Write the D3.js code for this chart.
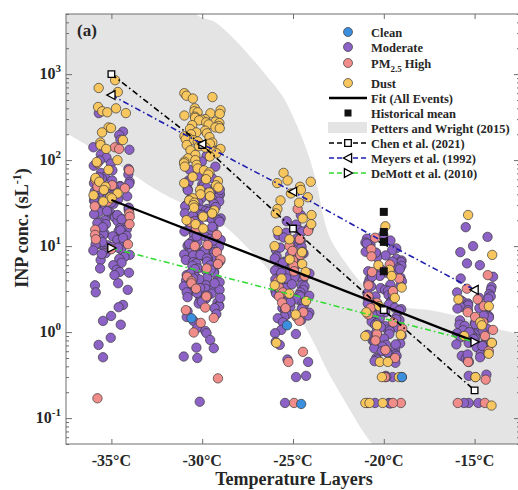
<!DOCTYPE html>
<html>
<head>
<meta charset="utf-8">
<script src="https://cdn.jsdelivr.net/npm/d3@7"></script>
<style>
  body { margin: 0; background: #fff; }
  svg { display: block; font-family: "Liberation Serif", "Times New Roman", serif; font-weight: bold; }
</style>
</head>
<body>
<svg id="chart" width="518" height="490"></svg>
<script>
// ---- data ----
const temps = [-35, -30, -25, -20, -15];
const tempLabels = ["-35°C", "-30°C", "-25°C", "-20°C", "-15°C"];
const yMajorTicks = [0.1, 1, 10, 100, 1000];
const yTickExponents = ["-1", "0", "1", "2", "3"];

// INP concentrations (sL^-1) per temperature layer, one inner list per layer
const clean = [[], [1.45], [1.2, 0.146], [0.3], []];

const moderate = [
  [352, 214, 195, 172, 141, 132, 116, 107, 99, 91, 86, 79, 76, 71, 68, 64, 61, 58, 56, 53, 50, 49, 47, 45, 43, 42, 40, 38, 37, 36, 34, 33, 31, 30, 29, 28, 27, 26, 25, 24, 23.5, 22, 21.5, 21, 20, 19.5, 19, 18, 17.5, 17, 16.2, 15.8, 15, 14.6, 14, 13.6, 13, 12.7, 12.2, 11.8, 11.4, 11, 10.6, 10.2, 9.8, 9.4, 9.1, 8.7, 8.3, 7.9, 7.5, 7.1, 6.9, 6.4, 6.0, 5.5, 5.3, 5.0, 4.9, 4.6, 3.7, 3.5, 3.1, 2.9, 2.07, 1.95, 1.54, 1.35, 1.22, 0.86, 0.71, 0.51,
   63, 54, 46, 39, 35, 32, 27.5, 25.5, 23, 20.5, 18.5, 16.6, 15.3, 13.2, 12.4, 11.2, 10.4, 9.6, 8.9, 8.1],
  [131, 112, 96, 84, 77, 71, 66, 62, 58, 55, 52, 50, 48, 46, 44.5, 43, 41, 40, 38.5, 37, 36, 34.5, 33, 32, 31, 30, 29, 28, 27, 26.5, 25.5, 25, 24, 23.5, 22.5, 22, 21, 20.5, 20, 19.2, 18.6, 18, 17.4, 17, 16.4, 16, 15.4, 15, 14.5, 14.1, 13.7, 13.3, 12.9, 12.5, 12.1, 11.8, 11.4, 11.1, 10.8, 10.4, 10.1, 9.8, 9.5, 9.3, 9, 8.7, 8.5, 8.2, 8, 7.8, 7.5, 7.3, 7.1, 6.9, 6.7, 6.5, 6.3, 6.1, 5.9, 5.7, 5.5, 5.4, 5.2, 5.0, 4.9, 4.7, 4.6, 4.4, 4.3, 4.1, 4.0, 3.9, 3.8, 3.6, 3.5, 3.4, 3.3, 3.2, 3.1, 3.0, 2.9, 2.8, 2.75, 2.65, 2.55, 2.45, 2.35, 2.3, 2.2, 2.15, 2.05, 2.0, 1.9, 1.75, 1.62, 1.5, 1.35, 1.12, 1.03, 0.97, 0.81, 0.66, 0.65, 0.52, 0.5, 0.155,
   45, 35, 28.5, 23, 19.6, 16.8, 14.8, 13, 11.6, 10.6, 9.7, 8.8, 7.9, 7.2, 6.6, 6, 5.3, 4.8, 4.2, 3.7, 3.25, 2.85, 2.5, 2.25],
  [23, 19.5, 17.8, 16.2, 15.4, 14.3, 13.4, 12.6, 12, 11.5, 10.8, 10.3, 9.8, 9.4, 9.0, 8.6, 8.2, 7.9, 7.6, 7.2, 6.9, 6.6, 6.3, 6.1, 5.8, 5.6, 5.4, 5.2, 5.0, 4.8, 4.6, 4.45, 4.3, 4.1, 3.95, 3.8, 3.65, 3.5, 3.4, 3.25, 3.1, 3.0, 2.9, 2.8, 2.7, 2.6, 2.5, 2.4, 2.3, 2.2, 2.15, 2.05, 1.98, 1.9, 1.82, 1.75, 1.68, 1.6, 1.52, 1.45, 1.38, 1.3, 1.06, 0.97, 0.95, 0.77, 0.71, 0.48, 0.45, 0.31, 0.3, 0.15,
   14.8, 11.8, 9.6, 8.4, 7.4, 6.4, 5.7, 4.9, 4.2, 3.6, 3.05, 2.65, 2.25, 1.86, 1.56],
  [13.5, 12.2, 11.6, 11, 10.4, 9.9, 9.4, 9, 8.6, 8.2, 7.8, 7.4, 7.1, 6.8, 6.5, 6.2, 5.9, 5.6, 5.3, 5.1, 4.9, 4.7, 4.5, 4.3, 4.1, 3.9, 3.7, 3.55, 3.4, 3.25, 3.1, 3.0, 2.85, 2.7, 2.6, 2.5, 2.4, 2.3, 2.2, 2.1, 2.0, 1.92, 1.85, 1.78, 1.7, 1.63, 1.56, 1.5, 1.44, 1.38, 1.32, 1.27, 1.22, 1.17, 1.12, 1.07, 1.03, 0.99, 0.95, 0.91, 0.87, 0.84, 0.8, 0.77, 0.74, 0.71, 0.68, 0.65, 0.62, 0.6, 0.57, 0.55, 0.53, 0.5, 0.48, 0.46, 0.44, 0.31, 0.3, 0.3, 0.15, 0.15, 0.148, 0.15,
   10.7, 8.4, 6.6, 5.4, 4.4, 3.45, 2.75, 2.15, 1.74, 1.41, 1.14, 0.93, 0.72, 0.58],
  [16.6, 12.8, 10, 8.5, 6.3, 6.0, 4.4, 4.2, 3.35, 3.1, 2.9, 2.75, 2.6, 2.45, 2.35, 2.25, 2.15, 2.05, 1.95, 1.88, 1.8, 1.72, 1.66, 1.6, 1.54, 1.48, 1.42, 1.37, 1.32, 1.27, 1.22, 1.18, 1.13, 1.09, 1.05, 1.01, 0.97, 0.94, 0.9, 0.87, 0.84, 0.81, 0.78, 0.75, 0.72, 0.7, 0.67, 0.65, 0.62, 0.6, 0.58, 0.56, 0.53, 0.51, 0.49, 0.47, 0.45, 0.32, 0.31, 0.3, 0.15, 0.15, 0.15,
   2.5, 1.9, 1.56, 1.24, 1.0, 0.83, 0.69, 0.55]
];

const pmHigh = [
  [141, 135, 92, 76, 59, 51, 49, 47, 35, 33, 29, 24, 22, 18, 15.5, 13.5, 12, 10.5, 9.2, 0.17],
  [24, 19, 16, 13.5, 10.3, 10, 8.5, 7, 6.2, 5.5, 4.4, 3.9, 3.7, 3.2, 2.6, 1.93, 1.8, 1.46, 1.28, 0.99, 0.29],
  [27, 15, 12, 10, 8.8, 7.9, 6.8, 5.9, 5.1, 4.5, 3.9, 3.3, 2.9, 2.6, 2.2, 1.9, 1.7, 1.5, 1.35, 0.59, 0.45, 0.15],
  [12.5, 9.2, 7.6, 6.1, 5.0, 4.2, 3.5, 3.0, 2.6, 2.2, 1.9, 1.6, 1.3, 1.1, 0.95, 0.8, 0.62, 0.5, 0.3, 0.15, 0.15],
  [4.6, 3.2, 2.4, 2.0, 1.7, 1.5, 1.3, 1.06, 0.9, 0.75, 0.6, 0.45, 0.28, 0.15, 0.15]
];

const dust = [
  [850, 690, 620, 415, 400, 370, 360, 352, 240, 236, 210, 171, 160, 150, 135, 100, 95, 77, 62, 56, 49, 45, 41, 39, 37, 36, 33],
  [600, 560, 540, 520, 400, 380, 370, 360, 350, 345, 330, 320, 310, 300, 295, 290, 280, 275, 270, 260, 255, 250, 240, 235, 230, 220, 210, 205, 200, 190, 185, 180, 175, 170, 165, 160, 155, 150, 145, 140, 135, 130, 125, 120, 115, 110, 105, 100, 96, 92, 88, 84, 80, 76, 72, 68, 64, 60, 57, 54, 51, 48, 45, 42, 40, 38, 36, 34, 32, 30, 28, 26, 24, 22, 20, 18, 16],
  [71, 58, 56, 54, 49, 45, 41, 37, 34, 32, 27, 24, 23, 21, 18, 15, 12, 10, 8.5, 7, 6.2, 5, 4.2, 3.5, 2.8, 2.3, 1.6, 0.75],
  [17, 6, 5.3, 4.5, 3.3, 2.5, 2.0, 1.7, 1.2, 0.93, 0.9, 0.45, 0.45, 0.3, 0.3, 0.3, 0.15, 0.15, 0.15],
  [23, 7.9, 2.4, 2.0, 1.3, 1.2, 0.9, 0.75, 0.56, 0.3, 0.14]
];

// exponential fit over all events
const fitTemps = [-35, -15];
const fitValues = [34.4, 0.78];

// historical means at -20 °C
const histTemps = [-20, -20, -20, -20];
const histValues = [25, 14.6, 11.2, 5.1];

// parameterisations
const chenValues = [1000, 150, 16, 1.8, 0.21];
const meyersValues = [570, 154, 43, 11.2, 3.1];
const demottTemps = [-35, -15];
const demottValues = [9.5, 0.77];

// Petters and Wright (2015) envelope
const pwUpperT = [-38, -31.5, -30.34, -29.3, -28.19, -27.09, -26.27, -25.55, -24.72, -24.06, -23.62, -23.35, -22.96, -22.3, -21.48, -20.59, -19.38, -17.46, -15.53, -13.88, -12.2];
const pwUpperN = [1e5, 2e4, 5000, 4040, 2500, 1380, 855, 542, 236, 100, 45, 23, 12.4, 7.3, 4.26, 2.7, 2.0, 1.8, 1.46, 1.12, 0.78];
const pwLowerT = [-38, -37.5, -34.53, -32.32, -30.12, -28.85, -27.37, -26.43, -25.44, -24.61, -23.79, -23.13, -22.41, -21.86, -21.2, -20.65, -20.2, -12.2];
const pwLowerN = [230, 206, 85.5, 42.6, 25, 17.6, 9.0, 5.57, 2.85, 1.46, 0.71, 0.363, 0.196, 0.124, 0.0727, 0.05, 0.035, 0.035];

// ---- layout ----
const svg = d3.select("#chart");
const box = { left: 66, right: 520, top: 14, bottom: 444 };
const x = d3.scaleLinear().domain([-37.5, -12.5]).range([box.left, box.right]);
const y = d3.scaleLog().domain([0.05, 5000]).range([box.bottom, box.top]);

const colors = {
  clean: "#3b8fde",
  moderate: "#8c62c6",
  pm: "#f08c8a",
  dust: "#f7c65f",
  band: "#e4e4e4",
  meyers: "#1c1cae",
  demott: "#2fdc2f",
  axis: "#6e6e6e",
  text: "#262626"
};
const dashDot = "6,3,1.5,3";

svg.append("defs").append("clipPath").attr("id", "plotClip")
  .append("rect")
  .attr("x", box.left).attr("y", box.top)
  .attr("width", box.right - box.left).attr("height", box.bottom - box.top);

const plot = svg.append("g").attr("clip-path", "url(#plotClip)");

// envelope band
const bandPts = pwUpperT.map((t, i) => [t, pwUpperN[i]])
  .concat(pwLowerT.map((t, i) => [t, pwLowerN[i]]).reverse());
plot.append("path")
  .attr("d", d3.line().x(d => x(d[0])).y(d => y(d[1])).curve(d3.curveCatmullRomClosed)(bandPts))
  .attr("fill", colors.band);

// scatter: horizontal jitter inside each layer
const jitter = temps.map((t, i) => d3.randomUniform.source(d3.randomLcg(0.137 + i * 0.211))(-1.02, 1.02));
const groups = [
  { data: moderate, color: colors.moderate },
  { data: pmHigh, color: colors.pm },
  { data: dust, color: colors.dust },
  { data: clean, color: colors.clean }
];
const points = [];
groups.forEach(g => {
  g.data.forEach((vals, i) => {
    vals.forEach(v => points.push({ t: temps[i] + jitter[i](), v, color: g.color }));
  });
});
plot.append("g").selectAll("circle").data(points).join("circle")
  .attr("cx", d => x(d.t)).attr("cy", d => y(d.v)).attr("r", 4.7)
  .attr("fill", d => d.color)
  .attr("stroke", "#3a3a3a").attr("stroke-width", 0.7);

const line = d3.line().x(d => x(d[0])).y(d => y(d[1]));

// fit
plot.append("path")
  .attr("d", line(fitTemps.map((t, i) => [t, fitValues[i]])))
  .attr("fill", "none").attr("stroke", "#000").attr("stroke-width", 2.3);

// parameterisation curves
function refCurve(ts, vs, color, marker) {
  const pts = ts.map((t, i) => [t, vs[i]]);
  plot.append("path").attr("d", line(pts))
    .attr("fill", "none").attr("stroke", color).attr("stroke-width", 1.6)
    .attr("stroke-dasharray", dashDot);
  plot.append("g").selectAll("path").data(pts).join("path")
    .attr("transform", d => `translate(${x(d[0])},${y(d[1])})`)
    .attr("d", marker)
    .attr("fill", "#fff").attr("stroke", "#000").attr("stroke-width", 1.3);
}
const squareMark = "M-3.3,-3.3H3.3V3.3H-3.3Z";
const leftTri = "M-4.6,0L3.6,-4.4L3.6,4.4Z";
const rightTri = "M4.6,0L-3.6,-4.4L-3.6,4.4Z";
refCurve(temps, chenValues, "#000", squareMark);
refCurve(temps, meyersValues, colors.meyers, leftTri);
refCurve(demottTemps, demottValues, colors.demott, rightTri);

// historical means
plot.append("g").selectAll("rect").data(histTemps.map((t, i) => [t, histValues[i]])).join("rect")
  .attr("x", d => x(d[0]) - 4).attr("y", d => y(d[1]) - 4)
  .attr("width", 8).attr("height", 8).attr("fill", "#111");

// ---- axes ----
const axes = svg.append("g");
const allYTicks = y.ticks().filter(v => v >= 0.05 && v <= 5000);
const minorY = allYTicks.filter(v => Math.abs(Math.log10(v) - Math.round(Math.log10(v))) > 1e-6);

function styleAxis(g) {
  g.select(".domain").remove();
  g.selectAll("line").attr("stroke", colors.axis);
}
axes.append("g").attr("transform", `translate(${box.left},0)`)
  .call(d3.axisRight(y).tickValues(minorY).tickSize(3).tickFormat(""))
  .call(styleAxis);
axes.append("g").attr("transform", `translate(${box.left},0)`)
  .call(d3.axisRight(y).tickValues(yMajorTicks).tickSize(6).tickFormat(""))
  .call(styleAxis);
axes.append("g").attr("transform", `translate(${box.right},0)`)
  .call(d3.axisLeft(y).tickValues(minorY).tickSize(3).tickFormat(""))
  .call(styleAxis);
axes.append("g").attr("transform", `translate(${box.right},0)`)
  .call(d3.axisLeft(y).tickValues(yMajorTicks).tickSize(6).tickFormat(""))
  .call(styleAxis);
axes.append("g").attr("transform", `translate(0,${box.bottom})`)
  .call(d3.axisTop(x).tickValues(temps).tickSize(5).tickFormat(""))
  .call(styleAxis);
axes.append("g").attr("transform", `translate(0,${box.top})`)
  .call(d3.axisBottom(x).tickValues(temps).tickSize(5).tickFormat(""))
  .call(styleAxis);

svg.append("rect")
  .attr("x", box.left).attr("y", box.top)
  .attr("width", box.right - box.left).attr("height", box.bottom - box.top)
  .attr("fill", "none").attr("stroke", colors.axis).attr("stroke-width", 1);

// y tick labels: 10^n
yMajorTicks.forEach((v, i) => {
  const t = svg.append("text")
    .attr("x", box.left - 5).attr("y", y(v) + 5)
    .attr("text-anchor", "end").attr("fill", colors.text)
    .attr("font-size", 16);
  t.append("tspan").text("10");
  t.append("tspan").attr("dy", -7).attr("font-size", 11).text(yTickExponents[i]);
});

// x tick labels
svg.append("g").selectAll("text").data(temps).join("text")
  .attr("x", d => x(d)).attr("y", 466)
  .attr("text-anchor", "middle").attr("fill", colors.text).attr("font-size", 16)
  .text((d, i) => tempLabels[i]);

// axis titles
svg.append("text")
  .attr("x", 294).attr("y", 485)
  .attr("text-anchor", "middle").attr("fill", colors.text).attr("font-size", 18)
  .text("Temperature Layers");

const yTitle = svg.append("text")
  .attr("transform", "translate(28,228) rotate(-90)")
  .attr("text-anchor", "middle").attr("fill", colors.text).attr("font-size", 18);
yTitle.append("tspan").text("INP conc. (sL");
yTitle.append("tspan").attr("dy", -7).attr("font-size", 12).text("-1");
yTitle.append("tspan").attr("dy", 7).text(")");

svg.append("text")
  .attr("x", 77).attr("y", 36).attr("fill", colors.text).attr("font-size", 17)
  .text("(a)");

// ---- legend ----
const legend = svg.append("g");
const lgMark = 348, lgLine0 = 329, lgLine1 = 367, lgText = 371;
const legendRows = [
  { label: "Clean", kind: "dot", color: colors.clean, cy: 32 },
  { label: "Moderate", kind: "dot", color: colors.moderate, cy: 47 },
  { label: "PM", sub: "2.5", rest: " High", kind: "dot", color: colors.pm, cy: 63 },
  { label: "Dust", kind: "dot", color: colors.dust, cy: 83 },
  { label: "Fit (All Events)", kind: "fit", cy: 98 },
  { label: "Historical mean", kind: "hist", cy: 113 },
  { label: "Petters and Wright (2015)", kind: "band", cy: 128 },
  { label: "Chen et al. (2021)", kind: "ref", color: "#000", marker: squareMark, cy: 143 },
  { label: "Meyers et al. (1992)", kind: "ref", color: colors.meyers, marker: leftTri, cy: 158 },
  { label: "DeMott et al. (2010)", kind: "ref", color: colors.demott, marker: rightTri, cy: 173 }
];
legendRows.forEach(r => {
  if (r.kind === "dot") {
    legend.append("circle").attr("cx", lgMark).attr("cy", r.cy).attr("r", 4.5)
      .attr("fill", r.color).attr("stroke", "#3a3a3a").attr("stroke-width", 0.7);
  } else if (r.kind === "fit") {
    legend.append("line").attr("x1", lgLine0).attr("x2", lgLine1).attr("y1", r.cy).attr("y2", r.cy)
      .attr("stroke", "#000").attr("stroke-width", 2.3);
  } else if (r.kind === "hist") {
    legend.append("rect").attr("x", lgMark - 3.5).attr("y", r.cy - 3.5)
      .attr("width", 7).attr("height", 7).attr("fill", "#111");
  } else if (r.kind === "band") {
    legend.append("rect").attr("x", lgLine0 - 1).attr("y", r.cy - 6)
      .attr("width", lgLine1 - lgLine0 + 1).attr("height", 11).attr("fill", colors.band);
  } else {
    legend.append("line").attr("x1", lgLine0).attr("x2", lgLine1).attr("y1", r.cy).attr("y2", r.cy)
      .attr("stroke", r.color).attr("stroke-width", 1.6).attr("stroke-dasharray", "5,3");
    legend.append("path").attr("transform", `translate(${lgMark},${r.cy})`).attr("d", r.marker)
      .attr("fill", "#fff").attr("stroke", "#000").attr("stroke-width", 1.3);
  }
  const t = legend.append("text").attr("x", lgText).attr("y", r.cy + 4.5)
    .attr("fill", colors.text).attr("font-size", 12.5);
  t.append("tspan").text(r.label);
  if (r.sub) {
    t.append("tspan").attr("dy", 4).attr("font-size", 9).text(r.sub);
    t.append("tspan").attr("dy", -4).text(r.rest);
  }
});
</script>
</body>
</html>
